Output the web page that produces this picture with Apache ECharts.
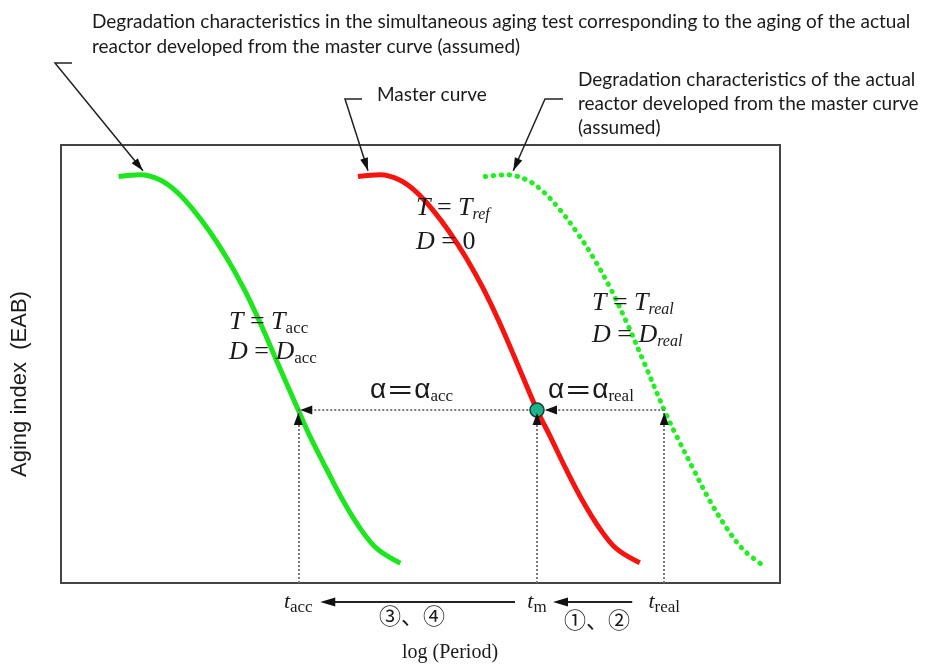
<!DOCTYPE html>
<html><head><meta charset="utf-8">
<script src="https://cdn.jsdelivr.net/npm/echarts@6/dist/echarts.min.js"></script>
<style>html,body{margin:0;padding:0;background:#fff}#c{width:925px;height:666px}</style>
</head><body><div id="c"></div><script>
// ---- data (x: log(Period) units, y: aging index %) ----
const accX  = [0.80,1.10,1.38,1.61,1.84,2.07,2.31,2.54,2.77,3.00,3.30,3.46,3.70,3.93,4.16,4.39,4.72];
const accY  = [92.8,93.2,92.0,89.3,85.2,80.2,74.1,67.3,59.4,50.7,39.5,33.6,25.8,18.6,12.5,7.9,4.5];
const masterX = [4.13,4.44,4.71,4.94,5.17,5.40,5.64,5.87,6.10,6.33,6.62,6.80,7.03,7.26,7.49,7.72,8.05];
const masterY = [92.8,93.2,92.0,89.3,85.2,80.2,74.1,67.3,59.4,50.7,39.5,33.6,25.8,18.6,12.5,7.9,4.6];
const realX = [5.90,6.20,6.48,6.71,6.94,7.17,7.41,7.64,7.87,8.10,8.39,8.56,8.80,9.03,9.26,9.49,9.79];
const realY = [92.8,93.2,92.0,89.3,85.2,80.2,74.1,67.3,59.4,50.7,39.5,33.6,25.8,18.6,12.5,7.6,3.7];
const tickValues = [3.30, 6.62, 8.39];
const tickSubs = ['acc', 'm', 'real'];
const alphaLevel = 39.5;
const leaderAnchorX = [1.14, 4.27, 6.29];
const leaderAnchorY = 93.2;
const titleLeft = ['Degradation characteristics in the simultaneous aging test corresponding to the aging of the actual',
                   'reactor developed from the master curve (assumed)'];
const titleRight = ['Degradation characteristics of the actual', 'reactor developed from the master curve', '(assumed)'];
const titleMaster = 'Master curve';

const SERIF = 'Liberation Serif, "Times New Roman", serif';
const SANS = 'Liberation Sans, Arial, sans-serif';
const ANNO = 'Lato, "Open Sans", sans-serif';
const CJK = '"Noto Sans CJK JP", sans-serif';
const INK = '#1a1a1a';

const zip = (xs, ys) => xs.map((x, i) => [x, ys[i]]);
function measure(text, font) {
  const c = document.createElement('canvas').getContext('2d');
  c.font = font; return c.measureText(text).width;
}
const annoSize = Math.round(100 * 820 / measure(titleLeft[0], '100px Lato') * 10) / 10;

const chart = echarts.init(document.getElementById('c'), null, { renderer: 'canvas' });

const tickRich = {
  t: { fontFamily: SERIF, fontStyle: 'italic', fontSize: 22, color: INK, lineHeight: 26 },
  s: { fontFamily: SERIF, fontSize: 17, color: INK, lineHeight: 16, padding: [12, 0, 0, 0] }
};

chart.setOption({
  animation: false,
  grid: { left: 61, top: 145, width: 719, height: 438, show: true, borderColor: '#444', borderWidth: 2 },
  xAxis: {
    type: 'value', min: 0, max: 10,
    axisLine: { show: false }, axisTick: { show: false }, splitLine: { show: false },
    axisLabel: {
      customValues: tickValues, margin: 6, rich: tickRich,
      formatter: v => {
        const i = tickValues.findIndex(t => Math.abs(t - v) < 1e-6);
        return '{t|t}{s|' + (i >= 0 ? tickSubs[i] : '') + '}';
      }
    }
  },
  yAxis: {
    type: 'value', min: 0, max: 100,
    axisLine: { show: false }, axisTick: { show: false }, axisLabel: { show: false }, splitLine: { show: false },
    name: 'Aging index  (EAB)', nameLocation: 'middle', nameGap: 30,
    nameTextStyle: { fontSize: 22, fontFamily: SANS, color: INK, padding: [0, 40, 0, 0] }
  },
  series: [
    { name: 'acc', type: 'line', data: zip(accX, accY), smooth: 0.35, showSymbol: false, silent: true,
      lineStyle: { color: '#1ee61e', width: 5 }, z: 3 },
    { name: 'master', type: 'line', data: zip(masterX, masterY), smooth: 0.35, showSymbol: false, silent: true,
      lineStyle: { color: '#f5140f', width: 5 }, z: 3 },
    { name: 'real', type: 'line', data: zip(realX, realY), smooth: 0.35, showSymbol: false, silent: true,
      lineStyle: { color: '#22ee22', width: 5, type: [0.5, 7.5], cap: 'round' }, z: 3 },
    { name: 'point', type: 'scatter', data: [[tickValues[1], alphaLevel]], symbolSize: 14, silent: true, z: 6,
      itemStyle: { color: '#1db487', borderColor: '#1b3a30', borderWidth: 1.5, opacity: 1 },
      markLine: {
        silent: true, symbol: 'none', label: { show: false }, animation: false,
        lineStyle: { type: [2, 2], color: '#7a7a7a', width: 2 },
        data: [
          [{ coord: [tickValues[0], alphaLevel] }, { coord: [tickValues[2], alphaLevel] }],
          [{ coord: [tickValues[0], 0] }, { coord: [tickValues[0], alphaLevel] }],
          [{ coord: [tickValues[1], 0] }, { coord: [tickValues[1], alphaLevel] }],
          [{ coord: [tickValues[2], 0] }, { coord: [tickValues[2], alphaLevel] }]
        ]
      }
    }
  ]
});

const P = (x, y) => chart.convertToPixel({ gridIndex: 0 }, [x, y]);
function head(tx, ty, ang, len, w) {
  len = len || 12; w = w || 8;
  const bx = tx - len * Math.cos(ang), by = ty - len * Math.sin(ang);
  const nx = -Math.sin(ang) * w / 2, ny = Math.cos(ang) * w / 2;
  return { type: 'polygon', z: 100, silent: true, shape: { points: [[tx, ty], [bx + nx, by + ny], [bx - nx, by - ny]] }, style: { fill: '#111' } };
}
const g = [];
// guide arrowheads
const [ax, ay] = P(tickValues[0], alphaLevel);
const [mx, my] = P(tickValues[1], alphaLevel);
const [rx, ry] = P(tickValues[2], alphaLevel);
[ax, mx, rx].forEach(x => g.push(head(x, ay + 3, -Math.PI / 2, 12, 9)));
g.push(head(ax + 2, ay, Math.PI, 12, 9));
g.push(head(mx + 8, my, Math.PI, 12, 9));

// leader lines
const corners = [[55, 63, 72], [345, 99, 362], [545, 99, 563]];
leaderAnchorX.forEach((lx, i) => {
  const [tx, ty0] = P(lx, leaderAnchorY);
  const ty = ty0 - 4;
  const [cx, cy, ex] = corners[i];
  g.push({ type: 'polyline', silent: true, z: 90, shape: { points: [[ex, cy], [cx, cy], [tx, ty]] },
           style: { stroke: '#222', lineWidth: 1.5, fill: null } });
  g.push(head(tx, ty, Math.atan2(ty - cy, tx - cx), 13, 8));
});

// arrows below the axis
const yA = 602;
const [tAx] = P(tickValues[0], 0), [tMx] = P(tickValues[1], 0), [tRx] = P(tickValues[2], 0);
[[tMx - 22, tAx + 22], [tRx - 32, tMx + 16]].forEach(([x1, x2]) => {
  g.push({ type: 'line', silent: true, z: 90, shape: { x1: x1, y1: yA, x2: x2 + 8, y2: yA }, style: { stroke: '#222', lineWidth: 2 } });
  g.push(head(x2, yA, Math.PI, 15, 9));
});

function txt(text, x, y, extra) {
  return Object.assign({ type: 'text', silent: true, z: 95, style: Object.assign({ text: text, x: x, y: y,
    fill: INK, align: 'left', textAlign: 'left', verticalAlign: 'middle', textVerticalAlign: 'middle' }, extra) });
}
const annoFont = { fontFamily: ANNO, fontSize: annoSize };
g.push(txt(titleLeft[0], 92, 22, annoFont));
g.push(txt(titleLeft[1], 92, 47, annoFont));
g.push(txt(titleMaster, 377, 95, annoFont));
g.push(txt(titleRight[0], 578, 80, annoFont));
g.push(txt(titleRight[1], 578, 104, annoFont));
g.push(txt(titleRight[2], 578, 128, annoFont));

const eqRich = {
  i: { fontFamily: SERIF, fontStyle: 'italic', fontSize: 26, fill: INK, color: INK, lineHeight: 30 },
  r: { fontFamily: SERIF, fontSize: 26, fill: INK, color: INK, lineHeight: 30 },
  si: { fontFamily: SERIF, fontStyle: 'italic', fontSize: 16, fill: INK, color: INK, lineHeight: 16, padding: [14, 0, 0, 0] },
  sr: { fontFamily: SERIF, fontSize: 17, fill: INK, color: INK, lineHeight: 16, padding: [14, 0, 0, 0] },
  a: { fontFamily: SANS + ', ' + CJK, fontSize: 28, fill: INK, color: INK, lineHeight: 30 },
  ae: { fontFamily: CJK, fontSize: 28, fill: INK, color: INK, lineHeight: 30 }
};
const eq = (s, x, y) => txt(s, x, y, { rich: eqRich });
g.push(eq('{i|T}{r| = }{i|T}{si|ref}', 416, 208));
g.push(eq('{i|D}{r| = 0}', 416, 242));
g.push(eq('{i|T}{r| = }{i|T}{sr|acc}', 229, 322));
g.push(eq('{i|D}{r| = }{i|D}{sr|acc}', 229, 352));
g.push(eq('{i|T}{r| = }{i|T}{si|real}', 592, 303));
g.push(eq('{i|D}{r| = }{i|D}{si|real}', 592, 335));
g.push(eq('{a|α}{ae|＝}{a|α}{sr|acc}', 370, 390));
g.push(eq('{a|α}{ae|＝}{a|α}{sr|real}', 548, 390));

g.push(txt('③、④', 412, 616, { fontFamily: CJK, fontSize: 22, align: 'center', textAlign: 'center' }));
g.push(txt('①、②', 597, 620, { fontFamily: CJK, fontSize: 22, align: 'center', textAlign: 'center' }));
g.push(txt('log (Period)', 450, 653, { fontFamily: SERIF, fontSize: 20, align: 'center', textAlign: 'center' }));

chart.setOption({ graphic: { elements: g } });
</script></body></html>
